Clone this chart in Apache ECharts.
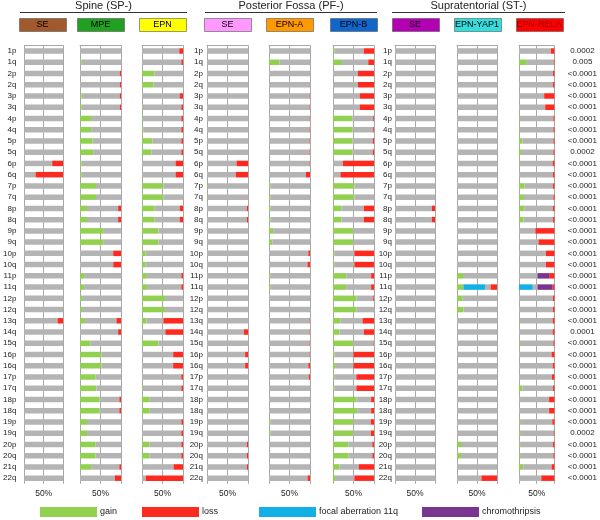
<!DOCTYPE html>
<html><head><meta charset="utf-8">
<script src="https://cdn.jsdelivr.net/npm/echarts@6/dist/echarts.min.js"></script>
<style>html,body{margin:0;padding:0;background:#fff}#c{width:600px;height:520px}</style>
</head><body><div id="c"></div>
<script>
const rows = ['1p','1q','2p','2q','3p','3q','4p','4q','5p','5q','6p','6q','7p','7q','8p','8q','9p','9q','10p','10q','11p','11q','12p','12q','13q','14q','15q','16p','16q','17p','17q','18p','18q','19p','19q','20p','20q','21q','22q'];
const pvals = ['0.0002','0.005','<0.0001','<0.0001','<0.0001','<0.0001','<0.0001','<0.0001','<0.0001','0.0002','<0.0001','<0.0001','<0.0001','<0.0001','<0.0001','<0.0001','<0.0001','<0.0001','<0.0001','<0.0001','<0.0001','<0.0001','<0.0001','<0.0001','<0.0001','0.0001','<0.0001','<0.0001','<0.0001','<0.0001','<0.0001','<0.0001','<0.0001','<0.0001','0.0002','<0.0001','<0.0001','<0.0001','<0.0001'];
const groupTitles = ['Spine (SP-)','Posterior Fossa (PF-)','Supratentorial (ST-)'];
const subtypes = ['SE','MPE','EPN','SE','EPN-A','EPN-B','SE','EPN-YAP1','EPN-RELA'];

const spSE_gain   = [0,0,0,0,0,0,0,0,0,0, 0,0,0,0,0,0,0,0,0,0, 0,0,0,0,0,0,0,0,0,0, 0,0,0,0,0,0,0,0,0];
const spSE_loss   = [0,0,0,0,0,0,0,0,0,0, 28,71,0,0,0,0,0,0,0,0, 0,0,0,0,14,0,0,0,0,0, 0,0,0,0,0,0,0,0,0];
const spMPE_gain  = [0,3,0,0,4,4,29,27,31,32, 4,4,39,39,17,17,58,58,0,0, 10,10,5,5,12,0,25,52,52,38, 40,48,48,17,17,38,38,27,0];
const spMPE_loss  = [0,0,3,3,3,3,0,0,0,0, 0,0,0,0,7,7,0,0,19,19, 0,0,0,0,11,7,0,0,0,0, 0,4,4,0,0,0,0,4,15];
const spEPN_gain  = [0,0,30,28,0,2,2,3,25,23, 0,0,52,52,31,31,40,40,9,9, 12,12,56,56,11,0,40,0,0,0, 2,19,19,0,0,18,18,0,0];
const spEPN_loss  = [9,4,0,0,8,4,4,4,4,4, 18,18,0,0,8,8,0,0,0,0, 4,4,0,0,48,43,0,24,24,4, 4,0,0,4,4,4,4,23,91];
const pfSE_gain   = [0,0,0,0,0,0,0,0,0,0, 0,0,2,2,0,0,0,0,0,0, 0,0,0,0,0,0,0,0,0,0, 0,0,0,0,0,0,0,0,0];
const pfSE_loss   = [0,0,0,0,0,0,0,0,0,0, 28,30,0,0,3,3,0,0,0,0, 0,0,0,0,0,10,0,7,7,0, 0,0,0,0,0,3,3,3,0];
const pfEPNA_gain = [0,26,0,0,0,0,0,0,0,0, 0,0,3,3,4,4,10,8,0,0, 3,3,0,0,0,0,0,0,0,0, 0,0,0,3,3,0,0,0,0];
const pfEPNA_loss = [0,0,0,0,1,1,1,1,1,1, 1,10,0,0,0,0,0,0,4,6, 0,0,0,0,1,1,1,1,4,3, 0,0,0,0,0,0,0,0,6];
const pfEPNB_gain = [4,22,0,0,0,0,48,48,48,48, 0,0,52,52,21,21,49,49,3,3, 32,32,57,57,18,16,49,4,7,3, 3,57,59,49,49,38,38,16,7];
const pfEPNB_loss = [25,14,39,39,35,35,2,2,3,3, 76,82,0,0,25,25,0,0,48,48, 7,7,2,0,28,25,1,50,50,43, 43,7,7,8,8,4,4,37,48];
const stSE_gain   = [0,0,0,0,0,0,0,0,0,0, 0,0,0,0,0,0,0,0,0,0, 0,0,0,0,0,0,0,0,0,0, 0,0,0,0,0,0,0,0,0];
const stSE_loss   = [0,0,0,0,0,0,0,0,0,0, 0,0,0,0,8,8,0,0,0,0, 0,0,0,0,0,0,0,0,0,0, 0,0,0,0,0,0,0,0,0];
const stYAP1_gain = [0,0,0,0,0,0,0,0,0,0, 0,0,0,0,0,0,0,0,0,0, 15,16,14,16,0,0,0,0,0,0, 0,0,0,0,0,10,10,0,0];
const stYAP1_focal= [0,0,0,0,0,0,0,0,0,0, 0,0,0,0,0,0,0,0,0,0, 0,54,0,0,0,0,0,0,0,0, 0,0,0,0,0,0,0,0,0];
const stYAP1_loss = [0,0,0,0,0,0,0,0,0,0, 0,0,0,0,0,0,0,0,0,0, 0,16,0,0,0,0,0,0,0,0, 0,0,0,0,0,0,0,0,39];
const stRELA_gain = [0,22,0,0,0,0,2,2,10,8, 2,0,15,14,15,13,0,0,0,0, 0,0,0,0,2,0,2,0,0,0, 10,0,0,3,3,3,3,12,0];
const stRELA_focal= [0,0,0,0,0,0,0,0,0,0, 0,0,0,0,0,0,0,0,0,0, 0,39,0,0,0,0,0,0,0,0, 0,0,0,0,0,0,0,0,0];
const stRELA_chromo=[0,0,0,0,0,0,0,0,0,0, 0,0,0,0,0,0,0,0,0,0, 33,43,0,0,0,0,0,0,0,0, 0,0,0,0,0,0,0,0,0];
const stRELA_loss = [10,2,4,4,29,26,3,3,3,3, 5,4,4,3,4,4,54,45,24,24, 15,5,4,4,5,5,3,8,5,7, 4,15,15,6,2,4,3,8,37];

const panelData = [
  {gain: spSE_gain, loss: spSE_loss},
  {gain: spMPE_gain, loss: spMPE_loss},
  {gain: spEPN_gain, loss: spEPN_loss},
  {gain: pfSE_gain, loss: pfSE_loss},
  {gain: pfEPNA_gain, loss: pfEPNA_loss},
  {gain: pfEPNB_gain, loss: pfEPNB_loss},
  {gain: stSE_gain, loss: stSE_loss},
  {gain: stYAP1_gain, loss: stYAP1_loss, focal: stYAP1_focal},
  {gain: stRELA_gain, loss: stRELA_loss, focal: stRELA_focal, chromo: stRELA_chromo}
];

// layout (positions / styles)
const FONT = 'Liberation Sans, Arial, sans-serif';
const layout = [
  {left:22, w:41, label:true, margin:8},
  {left:80, w:41},
  {left:142, w:41},
  {left:207, w:41, label:true, margin:4},
  {left:269, w:41},
  {left:333, w:41},
  {left:395, w:40, label:true, margin:3},
  {left:457, w:40},
  {left:519, w:40}
];
const boxColors = ['#a15a2e','#22a022','#ffff00','#ff99ff','#ff9900','#1166cc','#b300b3','#33dddd','#ff0000'];
const boxText = ['#000','#000','#000','#000','#000','#000','#000','#000','#8a0000'];
const groupLines = [[20,187],[205,377],[392,565]];
const C = {gain:'#92d050', loss:'#ff2a1f', focal:'#13b0e6', chromo:'#7a3590', rest:'#b4b4b4', line:'#a8a8a8'};
const GT = 45.4, GH = 438.4;

const grids=[], xAxes=[], yAxes=[], series=[];
layout.forEach((L,i)=>{
  grids.push({left:L.left, top:GT, width:L.w, height:GH});
  xAxes.push({type:'value', gridIndex:i, min:0, max:100, interval:50, position:'bottom',
    axisLine:{show:false}, axisTick:{show:false},
    splitLine:{show:true, lineStyle:{color:C.line, width:1}},
    axisLabel:{margin:5, fontSize:8.5, fontFamily:FONT, color:'#222', formatter:v=>v===50?'50%':''}});
  xAxes.push({type:'value', gridIndex:i, min:0, max:100, position:'top',
    axisLine:{show:true, lineStyle:{color:C.line}}, axisTick:{show:false}, axisLabel:{show:false}, splitLine:{show:false}});
  yAxes.push({type:'category', gridIndex:i, data:rows, inverse:true,
    axisLine:{show:false}, axisTick:{show:false},
    axisLabel:{show:!!L.label, fontSize:8, fontFamily:FONT, color:'#222', margin:L.margin||8}});
  const d = panelData[i];
  const z = rows.map(()=>0);
  const g = d.gain, f = d.focal||z, ch = d.chromo||z, lo = d.loss;
  const rest = rows.map((_,k)=>100-g[k]-f[k]-ch[k]-lo[k]);
  const base = {type:'bar', stack:'s'+i, xAxisIndex:2*i, yAxisIndex:i, barWidth:5.5, silent:true};
  series.push(Object.assign({}, base, {name:'gain', data:g, itemStyle:{color:C.gain}}));
  series.push(Object.assign({}, base, {name:'focal aberration 11q', data:f, itemStyle:{color:C.focal}}));
  series.push(Object.assign({}, base, {name:'rest', data:rest, itemStyle:{color:C.rest}}));
  series.push(Object.assign({}, base, {name:'chromothripsis', data:ch, itemStyle:{color:C.chromo}}));
  series.push(Object.assign({}, base, {name:'loss', data:lo, itemStyle:{color:C.loss}}));
});
// p-value axis on the right of the last panel
yAxes.push({type:'category', gridIndex:8, data:pvals, inverse:true, position:'right',
  axisLine:{show:false}, axisTick:{show:false},
  axisLabel:{show:true, fontSize:8, fontFamily:FONT, color:'#222', margin:28, align:'center'}});

const graphics=[];
groupTitles.forEach((t,i)=>{
  const [a,b]=groupLines[i];
  graphics.push({type:'text', x:(a+b)/2, y:6, style:{text:t, font:'11px '+FONT, fill:'#222', textAlign:'center', textVerticalAlign:'middle'}});
  graphics.push({type:'line', shape:{x1:a, y1:12.5, x2:b, y2:12.5}, style:{stroke:'#333', lineWidth:1}});
});
layout.forEach((L,i)=>{
  const cx = L.left + L.w/2;
  graphics.push({type:'rect', shape:{x:Math.round(cx-23.5)+0.5, y:18.5, width:47, height:13}, style:{fill:boxColors[i], stroke:'#555', lineWidth:0.6}});
  graphics.push({type:'text', x:cx, y:25, style:{text:subtypes[i], font:'9px '+FONT, fill:boxText[i], textAlign:'center', textVerticalAlign:'middle'}});
});

const legendBase = {top:507, itemWidth:57, itemHeight:10, itemGap:4, padding:0, icon:'rect', selectedMode:false,
  textStyle:{fontSize:9, fontFamily:FONT, color:'#222', padding:[0,0,0,-2]}};
const legends = [
  Object.assign({}, legendBase, {left:40, data:['gain']}),
  Object.assign({}, legendBase, {left:142, data:['loss']}),
  Object.assign({}, legendBase, {left:259, data:['focal aberration 11q']}),
  Object.assign({}, legendBase, {left:422, data:['chromothripsis']})
];

const chart = echarts.init(document.getElementById('c'), null, {renderer:'canvas'});
chart.setOption({
  animation:false,
  backgroundColor:'#fff',
  grid:grids, xAxis:xAxes, yAxis:yAxes, series:series,
  legend:legends, graphic:graphics
});
</script></body></html>
